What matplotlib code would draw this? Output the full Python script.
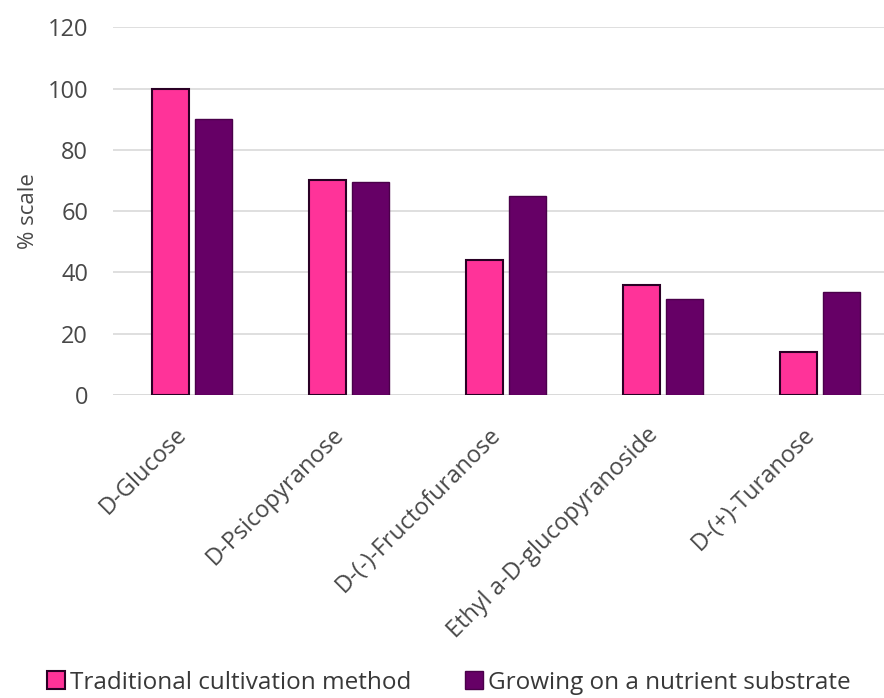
import matplotlib
matplotlib.use("Agg")
import matplotlib.pyplot as plt
import numpy as np

categories = ["D-Glucose", "D-Psicopyranose", "D-(-)-Fructofuranose",
              "Ethyl a-D-glucopyranoside", "D-(+)-Turanose"]
traditional = [100, 70, 44, 36, 14]
nutrient = [90, 69.5, 65, 31.5, 33.5]
series_names = ["Traditional cultivation method", "Growing on a nutrient substrate"]
yticks = [0, 20, 40, 60, 80, 100, 120]

plt.rcParams['font.family'] = ['Open Sans', 'DejaVu Sans']
txt = '#484848'

fig = plt.figure(figsize=(8.84, 6.98), dpi=100)
ax = fig.add_axes([0.128, 0.434, 0.872, 0.527])

x = np.arange(len(categories))
w = 0.236
off = 0.137
ax.bar(x - off, traditional, w, color='#FF3399', edgecolor='#2a0025', linewidth=1.5,
       label=series_names[0], zorder=3)
ax.bar(x + off, nutrient, w, color='#660066', edgecolor='#4a004a', linewidth=1.0,
       label=series_names[1], zorder=3)

ax.set_xlim(-0.5, 4.41)
ax.set_ylim(0, 120)
ax.set_yticks(yticks)
ax.yaxis.grid(True, color='#d9d9d9', linewidth=1.2, zorder=0)
for s in ax.spines.values():
    s.set_visible(False)
ax.axhline(0, color='#d9d9d9', linewidth=1.2, zorder=1)
ax.tick_params(axis='both', length=0, colors=txt)
ax.tick_params(axis='y', pad=18, labelsize=17)
ax.set_xticks(x)
ax.set_xticklabels(categories, rotation=45, ha='right', va='top', fontsize=17,
                   color=txt, rotation_mode='default')
ax.tick_params(axis='x', pad=20)
ax.set_ylabel('% scale', color=txt, fontsize=16, labelpad=6)

handles, labels = ax.get_legend_handles_labels()
fig.legend(handles, labels, loc='center', bbox_to_anchor=(0.508, 0.022), ncol=2,
           frameon=False, prop={'size': 17.5},
           labelcolor='#383838', handlelength=0.75,
           handleheight=0.75, handletextpad=0.2, columnspacing=2.2)

fig.savefig('out.png', dpi=100)
